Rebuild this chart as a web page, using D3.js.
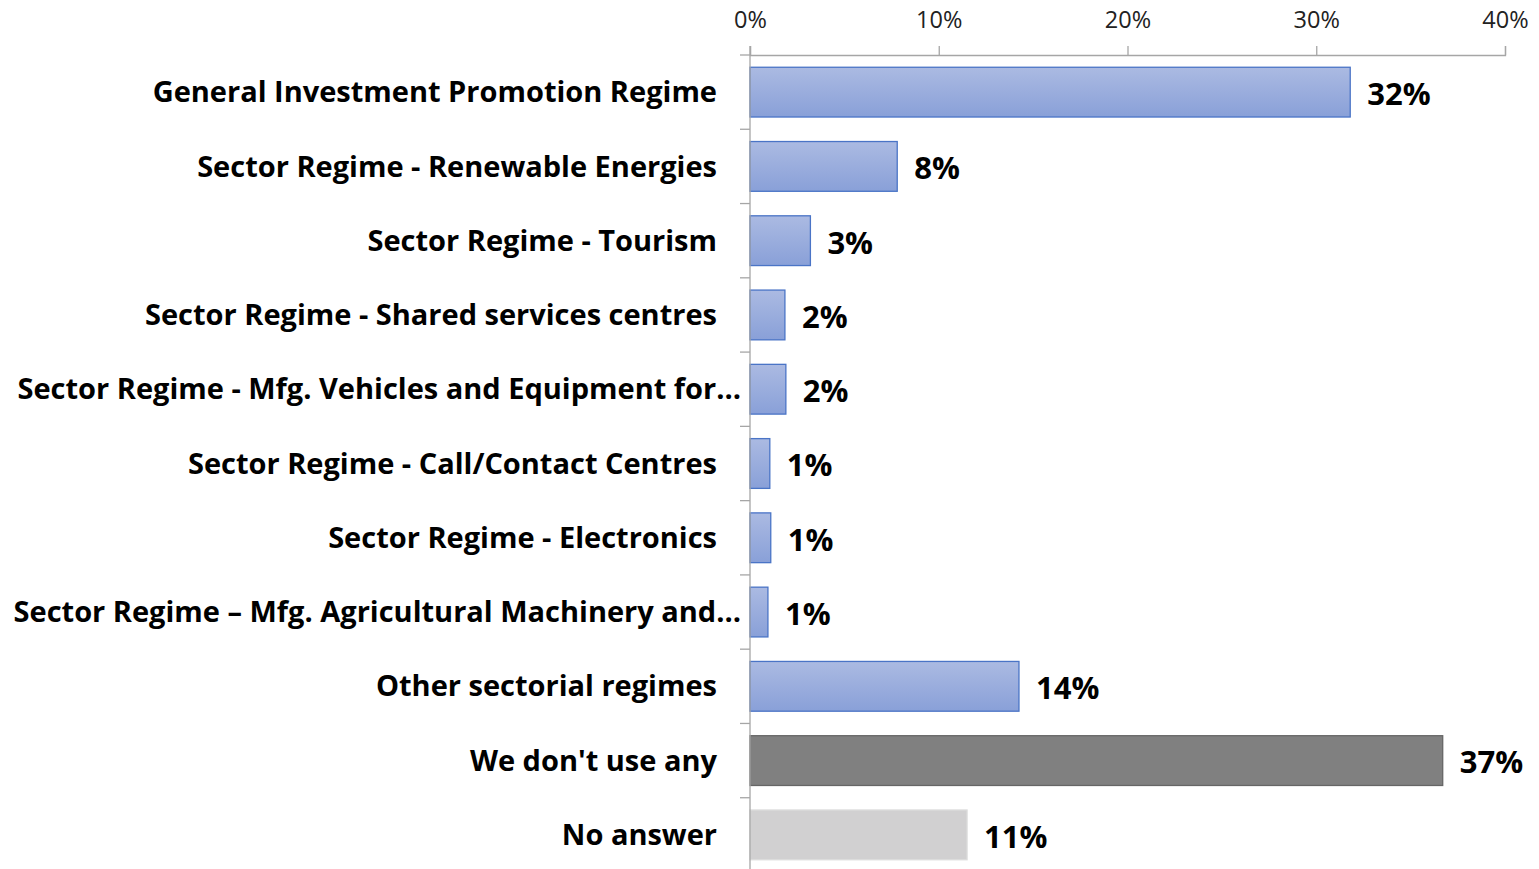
<html lang="en">
<head>
  <meta charset="UTF-8"/>
  <title>Investment regimes used</title>
  <script src="https://d3js.org/d3.v7.min.js"></script>
  <style>
    body { margin: 0; background: #fff; font-family: 'Open Sans', sans-serif; }
    svg { display: block; }
    .cat { font-size: 29px; font-weight: 700; fill: #000; }
    .value { font-size: 31px; font-weight: 700; fill: #000; }
    .xaxis text { font-size: 23.5px; fill: #222; font-family: 'Open Sans', sans-serif; }
    .xaxis path, .xaxis line, .ytick, .yline { stroke: #a6a6a6; stroke-width: 1.3; }
  </style>
</head>
<body>
<svg width="1539" height="869"></svg>
<script>
  const categories = [
    'General Investment Promotion Regime',
    'Sector Regime - Renewable Energies',
    'Sector Regime - Tourism',
    'Sector Regime - Shared services centres',
    'Sector Regime - Mfg. Vehicles and Equipment for\u2026',
    'Sector Regime - Call/Contact Centres',
    'Sector Regime - Electronics',
    'Sector Regime \u2013 Mfg. Agricultural Machinery and\u2026',
    'Other sectorial regimes',
    "We don't use any",
    'No answer'
  ];
  const values = [0.318, 0.078, 0.032, 0.0185, 0.019, 0.0105, 0.011, 0.0095, 0.1425, 0.367, 0.115];
  const valueLabels = ['32%', '8%', '3%', '2%', '2%', '1%', '1%', '1%', '14%', '37%', '11%'];
  const kinds = ['blue', 'blue', 'blue', 'blue', 'blue', 'blue', 'blue', 'blue', 'blue', 'dark', 'light'];
  const xTicks = [0, 0.1, 0.2, 0.3, 0.4];

  const svg = d3.select('svg');

  const plotLeft = 750, plotRight = 1505, plotTop = 55, plotBottom = 872;

  const x = d3.scaleLinear().domain([0, 0.4]).range([plotLeft, plotRight]);
  const y = d3.scaleBand()
    .domain(categories)
    .range([plotTop, plotBottom])
    .paddingInner(0.33)
    .paddingOuter(0.165);

  const defs = svg.append('defs');
  const grad = defs.append('linearGradient')
    .attr('id', 'blueGrad')
    .attr('x1', 0).attr('y1', 0).attr('x2', 0).attr('y2', 1);
  grad.append('stop').attr('offset', '0%').attr('stop-color', '#abbae2');
  grad.append('stop').attr('offset', '100%').attr('stop-color', '#89a0d8');

  const fills = { blue: 'url(#blueGrad)', dark: '#808080', light: '#d1d0d1' };
  const strokes = { blue: '#4a74c6', dark: '#666666', light: '#dcdcdc' };

  const data = categories.map((c, i) => ({ cat: c, value: values[i], label: valueLabels[i], kind: kinds[i] }));

  // bars
  svg.selectAll('rect.bar')
    .data(data)
    .enter()
    .append('rect')
    .attr('class', 'bar')
    .attr('x', x(0))
    .attr('y', d => y(d.cat))
    .attr('width', d => x(d.value) - x(0))
    .attr('height', y.bandwidth())
    .attr('fill', d => fills[d.kind])
    .attr('stroke', d => strokes[d.kind])
    .attr('stroke-width', 1.3);

  // top axis
  svg.append('g')
    .attr('class', 'xaxis')
    .attr('transform', `translate(0, ${plotTop})`)
    .call(d3.axisTop(x)
      .tickValues(xTicks)
      .tickFormat(d3.format('.0%'))
      .tickSize(9)
      .tickSizeOuter(9)
      .tickPadding(18));

  // vertical axis line and category ticks
  svg.append('line')
    .attr('class', 'yline')
    .attr('x1', plotLeft).attr('x2', plotLeft)
    .attr('y1', plotTop - 9).attr('y2', plotBottom);

  const gap = y.step() * y.paddingInner() / 2;
  svg.selectAll('line.ytick')
    .data(data)
    .enter()
    .append('line')
    .attr('class', 'ytick')
    .attr('x1', plotLeft - 10).attr('x2', plotLeft)
    .attr('y1', d => y(d.cat) - gap)
    .attr('y2', d => y(d.cat) - gap);

  // category labels
  svg.selectAll('text.cat')
    .data(data)
    .enter()
    .append('text')
    .attr('class', 'cat')
    .attr('x', d => d.cat.endsWith('\u2026') ? 741 : 717)
    .attr('y', d => y(d.cat) + y.bandwidth() / 2)
    .attr('dy', '0.35em')
    .attr('text-anchor', 'end')
    .text(d => d.cat);

  // value labels
  svg.selectAll('text.value')
    .data(data)
    .enter()
    .append('text')
    .attr('class', 'value')
    .attr('x', d => x(d.value) + 17)
    .attr('y', d => y(d.cat) + y.bandwidth() / 2 + 2)
    .attr('dy', '0.35em')
    .text(d => d.label);
</script>
</body>
</html>
